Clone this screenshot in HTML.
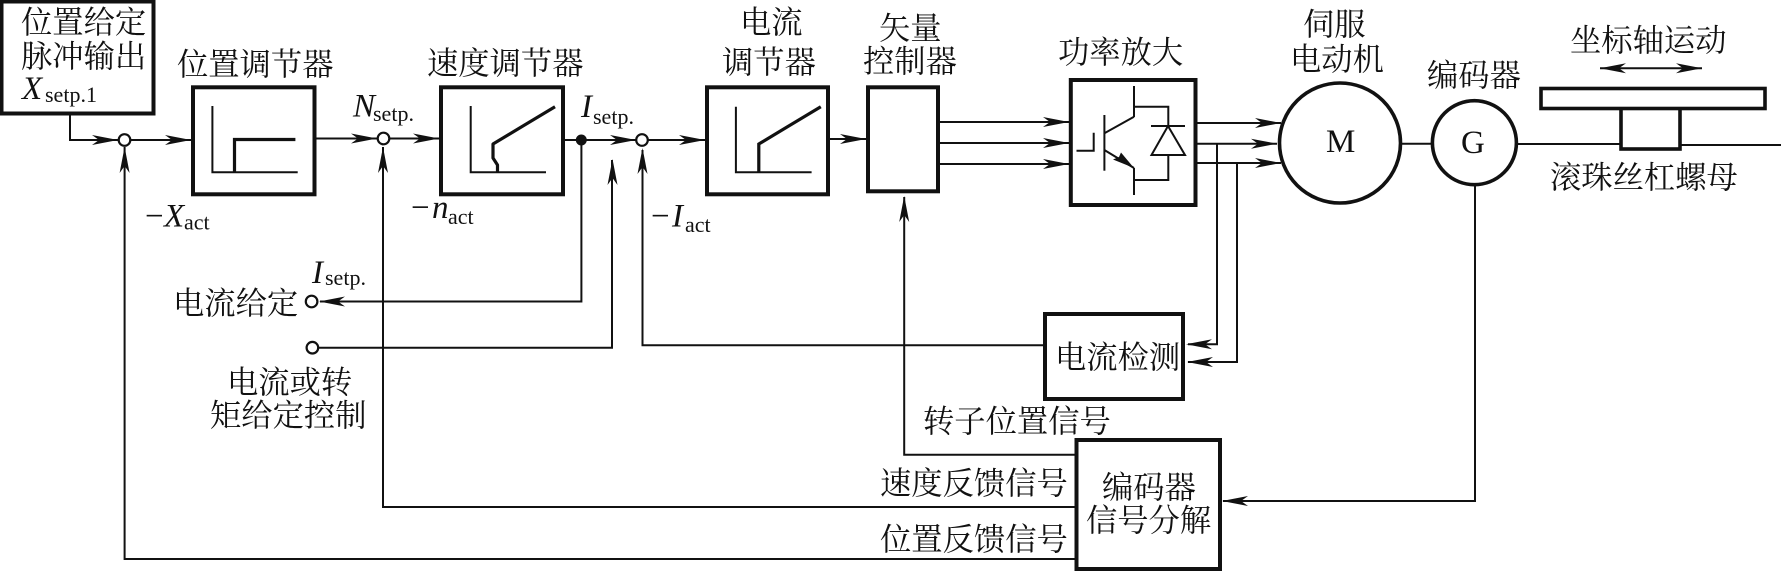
<!DOCTYPE html>
<html lang="zh">
<head>
<meta charset="utf-8">
<title>伺服系统控制框图</title>
<style>
html,body{margin:0;padding:0;background:#fff;width:1781px;height:573px;overflow:hidden}
svg{display:block}
.c{font-family:"Liberation Serif","Noto Serif CJK SC",serif;font-size:31.3px;fill:#111}
.l{font-family:"Liberation Serif",serif;fill:#111;font-size:33px}
.i{font-style:italic}
.s{font-size:22px}
</style>
</head>
<body>
<svg xmlns="http://www.w3.org/2000/svg" width="1781" height="573" viewBox="0 0 1781 573">
<defs>
<path id="a" d="M0 0L-26 -5L-19 0L-26 5Z" fill="#111"/>
</defs>
<rect width="1781" height="573" fill="#fff"/>

<!-- thin connectors -->
<g fill="none" stroke="#111" stroke-width="2">
<path d="M70 115V140H191"/>
<path d="M316 138.5H439"/>
<path d="M565 140H705"/>
<path d="M829 139H866"/>
<path d="M940 122H1069M940 143H1069M940 164H1069"/>
<path d="M1196 123H1281M1196 143.7H1277M1196 163H1281"/>
<path d="M1217 143.7V344.3H1188M1237 163V362H1188"/>
<path d="M1401 143.7H1432M1517 144H1620M1680 145H1781"/>
<path d="M1600 68.3H1702"/>
<path d="M1475 185V501H1223"/>
<path d="M124.6 147V559H1075"/>
<path d="M383 147V507H1075"/>
<path d="M581.4 140V301.5H320"/>
<path d="M318 347.7H612V160"/>
<path d="M642.5 150V345.3H1043"/>
<path d="M904.2 197V454.7H1075"/>
</g>

<!-- boxes -->
<g fill="#fff" stroke="#111" stroke-width="4">
<rect x="1.5" y="1.5" width="152" height="112"/>
<rect x="193" y="87.3" width="121.5" height="107"/>
<rect x="441" y="87.3" width="122" height="107"/>
<rect x="707" y="87.3" width="121" height="107"/>
<rect x="868" y="87.3" width="70" height="104"/>
<rect x="1070.8" y="80" width="124.7" height="125"/>
<rect x="1045" y="314" width="138" height="85"/>
<rect x="1076.5" y="440" width="143.5" height="129"/>
</g>

<!-- regulator characteristics -->
<g fill="none" stroke="#111" stroke-width="2">
<path d="M212.4 106V172.3H297.7"/>
<path d="M470.7 106V172.3H546"/>
<path d="M735.9 106.7V172.3H811.6"/>
</g>
<g fill="none" stroke="#111" stroke-width="3.2">
<path d="M234.5 172V139.5H295.4"/>
<path d="M497.5 172V165L493 158V144L555 106.7" stroke-linejoin="round"/>
<path d="M758.8 172V144L820.8 106.7"/>
</g>

<!-- IGBT and diode -->
<g fill="none" stroke="#111" stroke-width="2">
<path d="M1076.5 150.7H1093.7V132.7"/>
<path d="M1104.4 115V170.7"/>
<path d="M1104.4 133.3L1134 116.7M1104.4 150L1134 168"/>
<path d="M1134 86V117M1134 106.7H1168.3V180H1134M1134 168V195"/>
<path d="M1151 126H1185M1168 126L1151.5 155H1185Z" fill="#fff"/>
</g>
<path d="M1134 168L1113 159.5L1119 157L1121 152.5Z" fill="#111"/>

<!-- motor, encoder, table -->
<g fill="#fff" stroke="#111" stroke-width="3.6">
<ellipse cx="1340" cy="143" rx="60.5" ry="60"/>
<ellipse cx="1474.4" cy="142.7" rx="42" ry="42"/>
<rect x="1621" y="107" width="59" height="42"/>
<rect x="1541" y="88.5" width="224" height="20"/>
</g>

<!-- summing nodes -->
<g fill="#fff" stroke="#111" stroke-width="2.2">
<circle cx="124.5" cy="140" r="5.8"/>
<circle cx="383.5" cy="138.5" r="5.8"/>
<circle cx="642" cy="140" r="5.8"/>
<circle cx="311.6" cy="301.5" r="5.8"/>
<circle cx="312.4" cy="347.7" r="5.8"/>
</g>
<circle cx="581.3" cy="140" r="5.5" fill="#111"/>

<!-- arrowheads -->
<use href="#a" transform="translate(118,140)"/>
<use href="#a" transform="translate(191,140)"/>
<use href="#a" transform="translate(377,138.5)"/>
<use href="#a" transform="translate(439,138.5)"/>
<use href="#a" transform="translate(636,140)"/>
<use href="#a" transform="translate(705,140)"/>
<use href="#a" transform="translate(866,139)"/>
<use href="#a" transform="translate(1069,122)"/>
<use href="#a" transform="translate(1069,143)"/>
<use href="#a" transform="translate(1069,164)"/>
<use href="#a" transform="translate(1281,123)"/>
<use href="#a" transform="translate(1277,143.7)"/>
<use href="#a" transform="translate(1281,163)"/>
<use href="#a" transform="translate(1702,68.3)"/>
<use href="#a" transform="translate(1600,68.3) rotate(180)"/>
<use href="#a" transform="translate(1186,344.3) rotate(180)"/>
<use href="#a" transform="translate(1187,362) rotate(180)"/>
<use href="#a" transform="translate(1222,501) rotate(180)"/>
<use href="#a" transform="translate(319,301.5) rotate(180)"/>
<use href="#a" transform="translate(124.6,147) rotate(-90)"/>
<use href="#a" transform="translate(383,147) rotate(-90)"/>
<use href="#a" transform="translate(612.5,159) rotate(-90)"/>
<use href="#a" transform="translate(642.5,148) rotate(-90)"/>
<use href="#a" transform="translate(904.2,196) rotate(-90)"/>

<!-- CJK labels -->
<g class="c">
<text x="21" y="33">位置给定</text>
<text x="21" y="67">脉冲输出</text>
<text x="177" y="75">位置调节器</text>
<text x="427" y="74">速度调节器</text>
<text x="740" y="33">电流</text>
<text x="722" y="73">调节器</text>
<text x="879" y="39">矢量</text>
<text x="863" y="72">控制器</text>
<text x="1058" y="63">功率放大</text>
<text x="1303" y="35">伺服</text>
<text x="1290" y="70">电动机</text>
<text x="1427" y="86">编码器</text>
<text x="1570" y="51">坐标轴运动</text>
<text x="1550" y="188">滚珠丝杠螺母</text>
<text x="173" y="314">电流给定</text>
<text x="227" y="393">电流或转</text>
<text x="210" y="426">矩给定控制</text>
<text x="1055" y="368">电流检测</text>
<text x="923" y="432">转子位置信号</text>
<text x="880" y="494">速度反馈信号</text>
<text x="880" y="550">位置反馈信号</text>
<text x="1102" y="498">编码器</text>
<text x="1086" y="531">信号分解</text>
</g>

<!-- Latin labels -->
<g class="l">
<text x="22" y="99" class="i">X</text><text x="45" y="102" class="s">setp.1</text>
<text x="353" y="116.5" class="i">N</text><text x="373" y="121" class="s">setp.</text>
<text x="145" y="226.5">−</text><text x="164" y="226.5" class="i">X</text><text x="184" y="229.5" class="s">act</text>
<text x="411" y="218">−</text><text x="432" y="218" class="i">n</text><text x="448" y="224" class="s">act</text>
<text x="581" y="117" class="i">I</text><text x="593" y="124" class="s">setp.</text>
<text x="312" y="283" class="i">I</text><text x="325" y="285" class="s">setp.</text>
<text x="651" y="226.5">−</text><text x="672" y="226.5" class="i">I</text><text x="685" y="232" class="s">act</text>
<text x="1326" y="152">M</text>
<text x="1461" y="153">G</text>
</g>
</svg>
</body>
</html>
